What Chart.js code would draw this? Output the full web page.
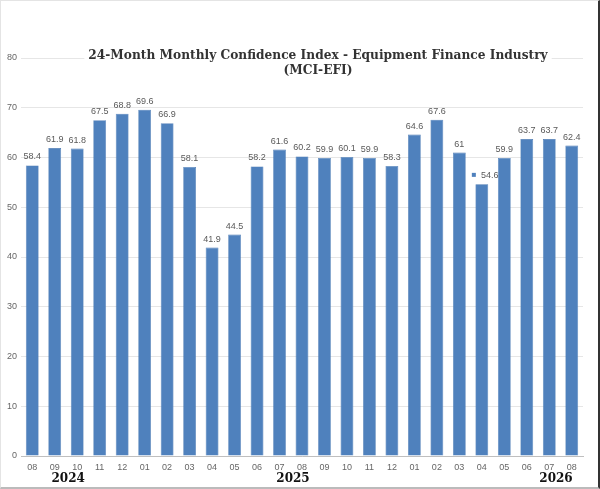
<!DOCTYPE html>
<html>
<head>
<meta charset="utf-8">
<script src="https://cdn.jsdelivr.net/npm/chart.js@4/dist/chart.umd.min.js"></script>
<style>
    html, body { margin: 0; padding: 0; background: #fff; }
    #wrap { width: 600px; height: 489px; position: relative; box-sizing: border-box;
            border-top: 1px solid #e4e4e4; border-left: 1px solid #e4e4e4;
            border-right: 2px solid #333; border-bottom: 2px solid #bbb; }
</style>
</head>
<body>
<div id="wrap"><canvas id="chart" width="597" height="486"></canvas></div>
<script>
'use strict';

// months, Aug 2024 .. Aug 2026
const months = ['08', '09', '10', '11', '12', '01', '02', '03', '04', '05', '06', '07', '08',
    '09', '10', '11', '12', '01', '02', '03', '04', '05', '06', '07', '08'];

const mciValues = [58.4, 61.9, 61.8, 67.5, 68.8, 69.6, 66.9, 58.1, 41.9, 44.5, 58.2, 61.6, 60.2,
    59.9, 60.1, 59.9, 58.3, 64.6, 67.6, 61, 54.6, 59.9, 63.7, 63.7, 62.4];

// year captions under the month ticks, with the category they sit under
const years = ['2024', '2025', '2026'];
const yearSlots = [1.6, 11.6, 23.3];

const titleLines = ['24-Month Monthly Confidence Index - Equipment Finance Industry', '(MCI-EFI)'];

const barBlue = '#4f81bd';
const serif = '"DejaVu Serif", "Liberation Serif", serif';

const extras = {
    id: 'extras',
    afterDatasetsDraw(chart) {
        const ctx = chart.ctx;
        const meta = chart.getDatasetMeta(0);
        ctx.save();
        ctx.font = '9px "Liberation Sans", Arial, sans-serif';
        ctx.fillStyle = '#595959';
        ctx.textAlign = 'center';
        ctx.textBaseline = 'bottom';
        meta.data.forEach((bar, i) => {
            const txt = String(mciValues[i]);
            if (i === 20) {
                // this one has a stray legend key next to it
                ctx.fillText(txt, bar.x + 8, bar.y - 4);
                ctx.fillStyle = barBlue;
                ctx.fillRect(bar.x - 10, bar.y - 11.5, 4, 4);
                ctx.fillStyle = '#595959';
            } else {
                ctx.fillText(txt, bar.x, bar.y - 4);
            }
        });

        // year captions
        const x = chart.scales.x;
        ctx.font = 'bold 12px ' + serif;
        ctx.fillStyle = '#111';
        ctx.textBaseline = 'middle';
        years.forEach((y, i) => {
            ctx.fillText(y, x.getPixelForValue(yearSlots[i]), 478);
        });

        // title, with white behind it so the top gridline is broken
        ctx.font = 'bold 13px ' + serif;
        const fit = 458 / ctx.measureText(titleLines[0]).width;
        ctx.font = 'bold ' + (13 * fit).toFixed(1) + 'px ' + serif;
        const cx = 317;
        titleLines.forEach((line, i) => {
            const w = ctx.measureText(line).width;
            const cy = 55 + i * 15;
            ctx.fillStyle = '#fff';
            ctx.fillRect(cx - w / 2 - 4, cy - 7, w + 8, 14);
            ctx.fillStyle = '#333';
            ctx.fillText(line, cx, cy);
        });
        ctx.restore();
    }
};

new Chart(document.getElementById('chart'), {
    type: 'bar',
    data: {
        labels: months,
        datasets: [{
            data: mciValues,
            backgroundColor: barBlue,
            borderColor: '#4676b0',
            borderWidth: 0.6,
            categoryPercentage: 1,
            barPercentage: 0.57
        }]
    },
    options: {
        responsive: false,
        animation: false,
        layout: { padding: { top: 57, right: 15, bottom: 0, left: 0 } },
        plugins: {
            legend: { display: false },
            tooltip: { enabled: false }
        },
        scales: {
            x: {
                grid: { display: false, drawTicks: false },
                border: { color: '#bfbfbf' },
                ticks: {
                    color: '#666',
                    font: { size: 9, family: '"Liberation Sans", Arial, sans-serif' },
                    padding: 6,
                    maxRotation: 0,
                    autoSkip: false
                },
                afterFit: s => { s.height = 31; }
            },
            y: {
                min: 0,
                max: 80,
                grid: { color: '#e6e6e6', drawTicks: false },
                border: { display: false },
                ticks: {
                    stepSize: 10,
                    color: '#666',
                    font: { size: 9, family: '"Liberation Sans", Arial, sans-serif' },
                    padding: 4
                },
                afterFit: s => { s.width = 20; }
            }
        }
    },
    plugins: [extras]
});
</script>
</body>
</html>
